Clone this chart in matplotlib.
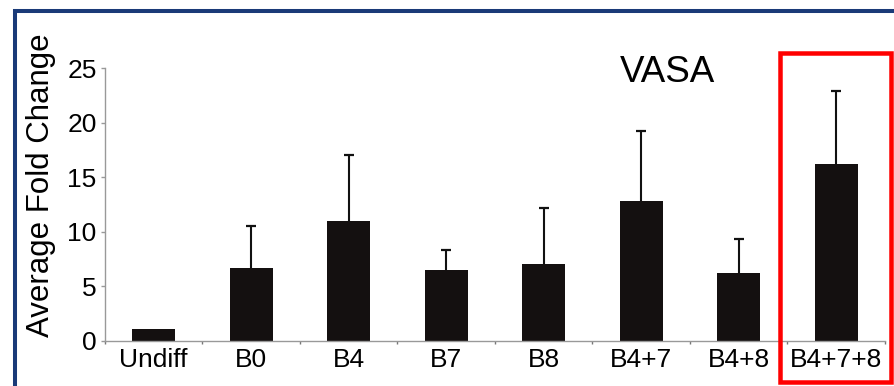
import matplotlib
matplotlib.use("Agg")
import matplotlib.pyplot as plt
import numpy as np
from matplotlib.lines import Line2D
from matplotlib.patches import Rectangle

categories = ["Undiff", "B0", "B4", "B7", "B8", "B4+7", "B4+8", "B4+7+8"]
means = [1.1, 6.7, 11.0, 6.5, 7.05, 12.8, 6.25, 16.2]
errors = [0.0, 3.8, 6.0, 1.8, 5.15, 6.4, 3.05, 6.7]
y_ticks = [0, 5, 10, 15, 20, 25]

plt.rcParams['font.family'] = ['Liberation Sans', 'DejaVu Sans']

W, H = 895, 386
fig = plt.figure(figsize=(W / 100, H / 100), dpi=100)
fig.patch.set_facecolor('white')

# axes box in pixels: x 105..885, y 68..341 (from top)
ax = fig.add_axes([105 / W, (H - 341) / H, 780 / W, 273 / H])

x = np.arange(len(categories))
# error bars drawn behind the bars so only the upper half shows
ax.errorbar(x[1:], means[1:], yerr=errors[1:], fmt='none',
            ecolor='#111111', elinewidth=1.5, capsize=3.5, capthick=1.6,
            zorder=1)
ax.bar(x, means, width=0.44, color='#141010', zorder=2)

ax.set_xlim(-0.5, len(categories) - 0.5)
ax.set_ylim(0, 25)
ax.set_yticks(y_ticks)
ax.set_xticks(x)
ax.set_xticklabels(categories, fontsize=19)
ax.set_xticks(np.arange(-0.5, len(categories), 1), minor=True)
ax.tick_params(axis='x', which='major', length=0, pad=5)
ax.tick_params(axis='x', which='minor', length=2.5, width=1, color='#777777',
               direction='out')
ax.tick_params(axis='y', length=3, width=1, color='#999999', pad=3,
               labelsize=19)

for side in ['top', 'right']:
    ax.spines[side].set_visible(False)
for side in ['left', 'bottom']:
    ax.spines[side].set_color('#999999')
    ax.spines[side].set_linewidth(1)
    ax.spines[side].set_zorder(3)

ax.set_ylabel("Average Fold Change", fontsize=22.5, va='center')
ax.yaxis.set_label_coords(-0.082, 0.57)

fig.text(620 / W, 1 - 72 / H, "VASA", fontsize=26.5, ha='left', va='center')

# red highlight box around the last category
rx0, rx1, ry0, ry1 = 780.25, 890.75, 53.25, 381.75
fig.add_artist(Rectangle((rx0 / W, 1 - ry1 / H), (rx1 - rx0) / W,
                         (ry1 - ry0) / H, transform=fig.transFigure,
                         fill=False, edgecolor='#ff0000', linewidth=3.24,
                         clip_on=False))

# navy frame, top and left edges
navy = '#1a3a78'
fig.add_artist(Line2D([15 / W, 15 / W], [0, 1 - 9 / H],
                      transform=fig.transFigure, color=navy, linewidth=2.9,
                      solid_capstyle='butt'))
fig.add_artist(Line2D([13 / W, 1], [1 - 10.5 / H, 1 - 10.5 / H],
                      transform=fig.transFigure, color=navy, linewidth=2.9,
                      solid_capstyle='butt'))

fig.savefig("out.png", dpi=100)
plt.close(fig)
